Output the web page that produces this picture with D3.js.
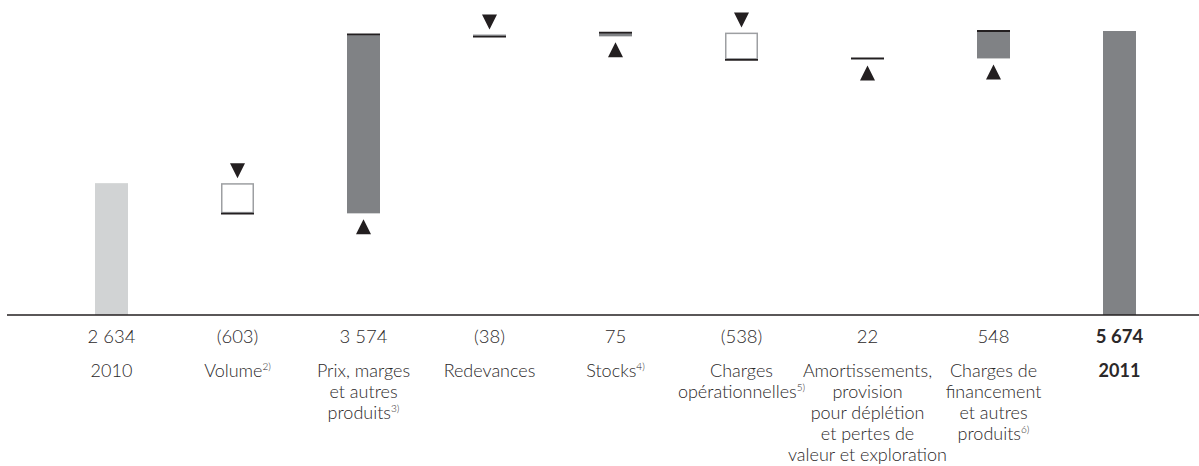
<!DOCTYPE html>
<html>
<head>
<meta charset="utf-8">
<script src="https://cdn.jsdelivr.net/npm/d3@7"></script>
<style>
  html, body { margin: 0; padding: 0; background: #fff; }
  svg { display: block; }
  text { font-family: Lato, "Open Sans", sans-serif; fill: #2b2829; }
</style>
</head>
<body>
<div id="chart"></div>
<script>
// Waterfall data (values in millions)
const categories = ['2010', 'Volume', 'Prix', 'Redevances', 'Stocks', 'ChargesOp', 'Amortissements', 'Financement', '2011'];
const values = [2634, -603, 3574, -38, 75, -538, 22, 548, 5674];
const kinds = ['total', 'delta', 'delta', 'delta', 'delta', 'delta', 'delta', 'delta', 'total'];
const valueLabels = ['2 634', '(603)', '3 574', '(38)', '75', '(538)', '22', '548', '5 674'];
const labelLines = [
  ['2010'],
  ['Volume'],
  ['Prix, marges', 'et autres', 'produits'],
  ['Redevances'],
  ['Stocks'],
  ['Charges', 'opérationnelles'],
  ['Amortissements,', 'provision', 'pour déplétion', 'et pertes de', 'valeur et exploration'],
  ['Charges de', 'financement', 'et autres', 'produits'],
  ['2011']
];
const footnotes = [null, '2)', '3)', null, '4)', '5)', null, '6)', null];

const width = 1199, height = 466;
const baseline = 315;
const barW = 33;

const svg = d3.select('#chart').append('svg')
  .attr('width', width)
  .attr('height', height);

// running totals -> start/end of each bar
let running = 0;
const bars = categories.map((c, i) => {
  let start, end;
  if (kinds[i] === 'total') {
    start = 0; end = values[i]; running = values[i];
  } else {
    start = running; end = running + values[i]; running = end;
  }
  return { cat: c, i, value: values[i], kind: kinds[i], start, end };
});

const x = d3.scalePoint()
  .domain(categories)
  .range([111.5, 1119.5]);

const y = d3.scaleLinear()
  .domain([0, 5674])
  .range([baseline, 31]);

// bars
const g = svg.append('g');
bars.forEach(d => {
  const cx = x(d.cat);
  const top = y(Math.max(d.start, d.end));
  const bot = y(Math.min(d.start, d.end));
  const h = Math.max(bot - top, 1);
  if (d.kind === 'total') {
    g.append('rect')
      .attr('x', cx - barW / 2).attr('y', top)
      .attr('width', barW).attr('height', bot - top)
      .attr('fill', d.i === 0 ? '#d1d3d4' : '#808285');
  } else if (d.value > 0) {
    g.append('rect')
      .attr('x', cx - barW / 2).attr('y', top)
      .attr('width', barW).attr('height', h)
      .attr('fill', '#808285');
    g.append('line')
      .attr('x1', cx - barW / 2).attr('x2', cx + barW / 2)
      .attr('y1', top).attr('y2', top)
      .attr('stroke', '#231f20').attr('stroke-width', 1.8);
    // up arrow below the bar
    const t = bot + 6;
    g.append('path')
      .attr('d', `M${cx - 7.5},${t + 15}L${cx + 7.5},${t + 15}L${cx},${t}Z`)
      .attr('fill', '#231f20');
  } else {
    g.append('rect')
      .attr('x', cx - barW / 2 + 0.75).attr('y', top + 0.75)
      .attr('width', barW - 1.5).attr('height', Math.max(h - 1.5, 0.5))
      .attr('fill', '#fff')
      .attr('stroke', '#9d9fa2').attr('stroke-width', 1.5);
    g.append('line')
      .attr('x1', cx - barW / 2).attr('x2', cx + barW / 2)
      .attr('y1', bot + 0.3).attr('y2', bot + 0.3)
      .attr('stroke', '#231f20').attr('stroke-width', 1.6);
    // down arrow above the box
    const b = top - 5;
    g.append('path')
      .attr('d', `M${cx - 7.5},${b - 15}L${cx + 7.5},${b - 15}L${cx},${b}Z`)
      .attr('fill', '#231f20');
  }
});

// axis line
svg.append('line')
  .attr('x1', 7).attr('x2', width)
  .attr('y1', baseline).attr('y2', baseline)
  .attr('stroke', '#231f20').attr('stroke-width', 1.5);

// value labels
svg.append('g').selectAll('text')
  .data(bars)
  .join('text')
  .attr('x', d => x(d.cat))
  .attr('y', 343)
  .attr('text-anchor', 'middle')
  .attr('font-size', 18.5)
  .attr('font-weight', d => d.i === 8 ? 700 : 300)
  .text(d => valueLabels[d.i]);

// category labels
const lab = svg.append('g');
bars.forEach(d => {
  const lines = labelLines[d.i];
  lines.forEach((ln, k) => {
    const t = lab.append('text')
      .attr('x', x(d.cat))
      .attr('y', 377 + k * 21)
      .attr('text-anchor', 'middle')
      .attr('font-size', 18)
      .attr('font-weight', d.i === 8 ? 700 : 300);
    t.append('tspan').text(ln);
    if (k === lines.length - 1 && footnotes[d.i]) {
      t.append('tspan')
        .attr('dy', -7)
        .attr('font-size', 10)
        .text(footnotes[d.i]);
    }
  });
});
</script>
</body>
</html>
